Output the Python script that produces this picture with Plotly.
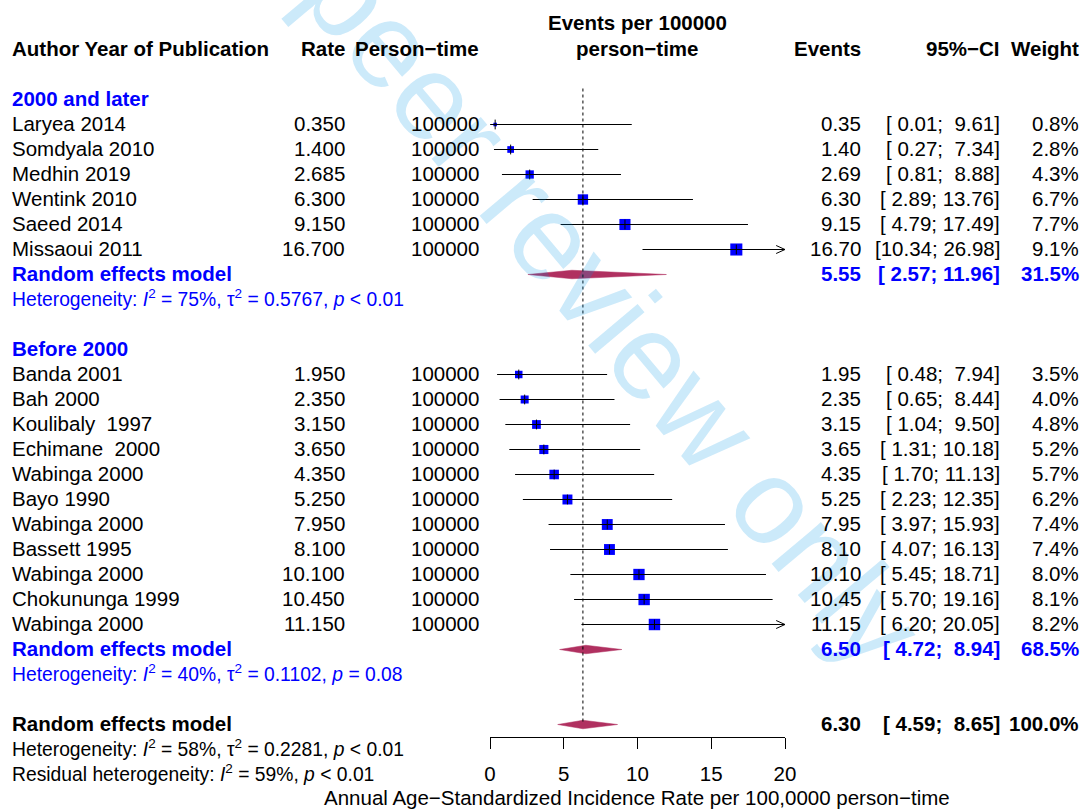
import math
import plotly.graph_objects as go

W, H = 1083, 809

# ---------------- data ----------------
studies_g1 = ["Laryea 2014", "Somdyala 2010", "Medhin 2019", "Wentink 2010", "Saeed 2014", "Missaoui 2011"]
rate_g1 = ["0.350", "1.400", "2.685", "6.300", "9.150", "16.700"]
est_g1 = [0.35, 1.40, 2.69, 6.30, 9.15, 16.70]
lo_g1 = [0.01, 0.27, 0.81, 2.89, 4.79, 10.34]
hi_g1 = [9.61, 7.34, 8.88, 13.76, 17.49, 26.98]
w_g1 = [0.8, 2.8, 4.3, 6.7, 7.7, 9.1]

studies_g2 = ["Banda 2001", "Bah 2000", "Koulibaly\u00a0\u00a01997", "Echimane\u00a0\u00a02000", "Wabinga 2000",
              "Bayo 1990", "Wabinga 2000", "Bassett 1995", "Wabinga 2000", "Chokununga 1999", "Wabinga 2000"]
rate_g2 = ["1.950", "2.350", "3.150", "3.650", "4.350", "5.250", "7.950", "8.100", "10.100", "10.450", "11.150"]
est_g2 = [1.95, 2.35, 3.15, 3.65, 4.35, 5.25, 7.95, 8.10, 10.10, 10.45, 11.15]
lo_g2 = [0.48, 0.65, 1.04, 1.31, 1.70, 2.23, 3.97, 4.07, 5.45, 5.70, 6.20]
hi_g2 = [7.94, 8.44, 9.50, 10.18, 11.13, 12.35, 15.93, 16.13, 18.71, 19.16, 20.05]
w_g2 = [3.5, 4.0, 4.8, 5.2, 5.7, 6.2, 7.4, 7.4, 8.0, 8.1, 8.2]

person_time = "100000"

group_labels = ["2000 and later", "Before 2000"]
re_est = [5.55, 6.50]
re_lo = [2.57, 4.72]
re_hi = [11.96, 8.94]
re_w = [31.5, 68.5]
het_g = [
    "Heterogeneity: <i>I</i><sup>2</sup> = 75%, \u03c4<sup>2</sup> = 0.5767, <i>p</i> &lt; 0.01",
    "Heterogeneity: <i>I</i><sup>2</sup> = 40%, \u03c4<sup>2</sup> = 0.1102, <i>p</i> = 0.08",
]
overall = (6.30, 4.59, 8.65, 100.0)
het_overall = "Heterogeneity: <i>I</i><sup>2</sup> = 58%, \u03c4<sup>2</sup> = 0.2281, <i>p</i> &lt; 0.01"
het_resid = "Residual heterogeneity: <i>I</i><sup>2</sup> = 59%, <i>p</i> &lt; 0.01"

x_ticks = [0, 5, 10, 15, 20]
x_title = "Annual Age\u2212Standardized Incidence Rate per 100,0000 person\u2212time"

# ---------------- layout helpers ----------------
FONT = "Liberation Sans, Arial, Helvetica, sans-serif"
BLUE = "#0000FF"
MAROON = "#B03060"
FS = 20.5
FS_HET = 19.3
XMAX = 20

ROW0_PX, ROW_H = 99.5, 25   # pixel y of row 0 and row height
TXT_DY = -1.5 / ROW_H        # small vertical nudge for text


def px(xp):
    return xp / W


annotations = []

# watermark (drawn first so it lies beneath the other text)
annotations.append(dict(
    text="For peer review only", xref="paper", yref="paper",
    x=px(543), y=1 - 226 / H, xanchor="center", yanchor="middle",
    textangle=50, showarrow=False, borderpad=0, borderwidth=0,
    font=dict(family=FONT, size=122, color="rgba(0,150,230,0.20)")))


def txt(s, xpix, row, anchor, bold=False, color="#000000", size=FS):
    if bold:
        s = "<b>" + s + "</b>"
    annotations.append(dict(text=s, xref="paper", yref="y", x=px(xpix), y=row + TXT_DY,
                            xanchor=anchor, yanchor="middle", showarrow=False,
                            borderpad=0, borderwidth=0,
                            font=dict(family=FONT, size=size, color=color)))


def ci_str(lo, hi):
    return ("[" + f"{lo:5.2f}" + "; " + f"{hi:5.2f}" + "]").replace(" ", "\u00a0")


X_STUDY, X_RATE, X_PT, X_EV, X_CI, X_W, X_MID = 12, 345, 479, 861, 1000, 1079, 637

# headers
txt("Author Year of Publication", X_STUDY, -2, "left", bold=True)
txt("Rate", X_RATE, -2, "right", bold=True)
txt("Person\u2212time", X_PT, -2, "right", bold=True)
txt("Events per 100000", X_MID, -3.04, "center", bold=True)
txt("person\u2212time", X_MID, -2, "center", bold=True)
txt("Events", X_EV, -2, "right", bold=True)
txt("95%\u2212CI", X_CI, -2, "right", bold=True)
txt("Weight", X_W, -2, "right", bold=True)

groups = [
    (studies_g1, rate_g1, est_g1, lo_g1, hi_g1, w_g1),
    (studies_g2, rate_g2, est_g2, lo_g2, hi_g2, w_g2),
]

sq_x, sq_y, sq_s = [], [], []
ci_x, ci_y = [], []
ar_x, ar_y = [], []
dia_x, dia_y = [], []

DH = 0.17  # diamond half height in rows


def add_diamond(est, lo, hi, row):
    dia_x.extend([lo, est, min(hi, XMAX), est, lo, None])
    dia_y.extend([row, row - DH, row, row + DH, row, None])


row = 0
for gi, (names, rates, ests, los, his, ws) in enumerate(groups):
    txt(group_labels[gi], X_STUDY, row, "left", bold=True, color=BLUE)
    row += 1
    for n, rt, e, lo, hi, w in zip(names, rates, ests, los, his, ws):
        txt(n, X_STUDY, row, "left")
        txt(rt, X_RATE, row, "right")
        txt(person_time, X_PT, row, "right")
        txt(f"{e:.2f}", X_EV, row, "right")
        txt(ci_str(lo, hi), X_CI, row, "right")
        txt(f"{w:.1f}%", X_W, row, "right")
        sq_x.append(e)
        sq_y.append(row)
        sq_s.append(4 * math.sqrt(w))
        ci_x.extend([lo, min(hi, XMAX), None])
        ci_y.extend([row, row, None])
        if hi > XMAX:
            ar_x.extend([XMAX - 0.6, XMAX, XMAX - 0.6, None])
            ar_y.extend([row - 0.16, row, row + 0.16, None])
        row += 1
    txt("Random effects model", X_STUDY, row, "left", bold=True, color=BLUE)
    txt(f"{re_est[gi]:.2f}", X_EV, row, "right", bold=True, color=BLUE)
    txt(ci_str(re_lo[gi], re_hi[gi]), X_CI, row, "right", bold=True, color=BLUE)
    txt(f"{re_w[gi]:.1f}%", X_W, row, "right", bold=True, color=BLUE)
    add_diamond(re_est[gi], re_lo[gi], re_hi[gi], row)
    row += 1
    txt(het_g[gi], X_STUDY, row, "left", color=BLUE, size=FS_HET)
    row += 2

# overall
ov_row = row
txt("Random effects model", X_STUDY, ov_row, "left", bold=True)
txt(f"{overall[0]:.2f}", X_EV, ov_row, "right", bold=True)
txt(ci_str(overall[1], overall[2]), X_CI, ov_row, "right", bold=True)
txt(f"{overall[3]:.1f}%", X_W, ov_row, "right", bold=True)
add_diamond(overall[0], overall[1], overall[2], ov_row)
txt(het_overall, X_STUDY, ov_row + 1, "left", size=FS_HET)
txt(het_resid, X_STUDY, ov_row + 2, "left", size=FS_HET)
txt(x_title, X_MID, ov_row + 2.96, "center")

fig = go.Figure()
fig.add_trace(go.Scatter(x=dia_x, y=dia_y, mode="lines", fill="toself", fillcolor=MAROON,
                         line=dict(color=MAROON, width=0.5), hoverinfo="skip"))
fig.add_trace(go.Scatter(x=sq_x, y=sq_y, mode="markers",
                         marker=dict(symbol="square", size=sq_s, color=BLUE, opacity=1,
                                     line=dict(width=0))))
fig.add_trace(go.Scatter(x=ci_x, y=ci_y, mode="lines", line=dict(color="black", width=1)))
fig.add_trace(go.Scatter(x=ar_x, y=ar_y, mode="lines", line=dict(color="black", width=1)))
fig.add_trace(go.Scatter(x=sq_x, y=sq_y, mode="markers",
                         marker=dict(symbol="line-ns-open", size=7, color="black", opacity=1,
                                     line=dict(color="black", width=1))))

fig.add_shape(type="line", xref="x", yref="y", x0=overall[0], x1=overall[0],
              y0=-0.44, y1=ov_row, line=dict(color="black", width=1, dash="dot"))

top_row = -ROW0_PX / ROW_H
bot_row = (H - ROW0_PX) / ROW_H
axis_px = 736.5

fig.update_layout(
    width=W, height=H, margin=dict(l=0, r=0, t=0, b=0, pad=0, autoexpand=False),
    paper_bgcolor="white", plot_bgcolor="rgba(0,0,0,0)",
    showlegend=False, annotations=annotations,
    font=dict(family=FONT, size=FS, color="black"),
    xaxis=dict(domain=[490 / W, 785 / W], range=[0, XMAX], anchor="free",
               position=(H - axis_px) / H, showgrid=False, zeroline=False,
               showline=True, linecolor="black", linewidth=1,
               ticks="outside", ticklen=11, tickwidth=1, tickcolor="black",
               tickvals=x_ticks, ticktext=[str(t) for t in x_ticks],
               tickfont=dict(family=FONT, size=FS, color="black"),
               ticklabelstandoff=8),
    yaxis=dict(domain=[0, 1], range=[bot_row, top_row], visible=False),
)

fig.write_html("out.html")
